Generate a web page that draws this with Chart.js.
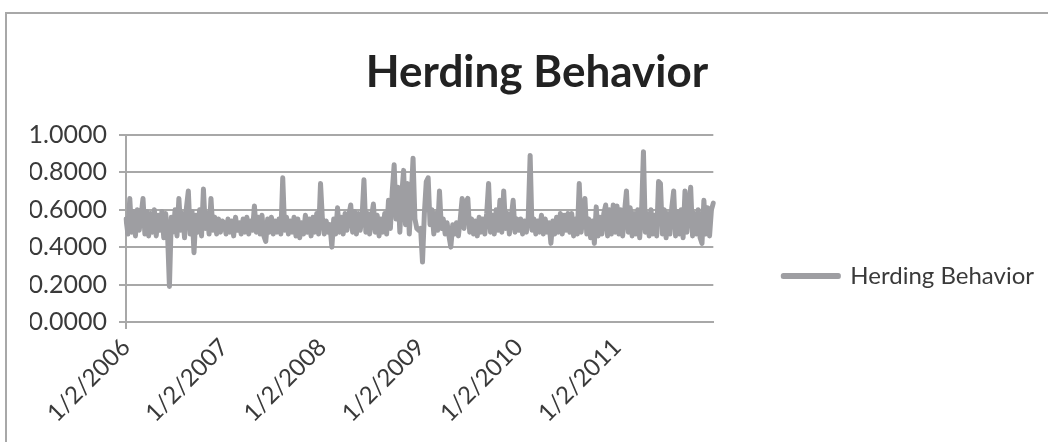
<!DOCTYPE html>
<html>
<head>
<meta charset="utf-8">
<script src="https://cdn.jsdelivr.net/npm/chart.js@4/dist/chart.umd.min.js"></script>
<style>
  html, body { margin: 0; padding: 0; background: #fff; overflow: hidden; }
  #wrap { position: relative; width: 1048px; height: 442px; }
  #frame { position: absolute; left: 5px; top: 12px; width: 1100px; height: 500px; border: 2px solid #a8a8a8; }
  #herdingChart { position: absolute; left: 0; top: 0; }
</style>
</head>
<body>
<div id="wrap">
  <div id="frame"></div>
  <canvas id="herdingChart" width="1048" height="442"></canvas>
</div>
<script>
// Weekly readings of the herding measure, one array per year (52 points each)
const years = [2006, 2007, 2008, 2009, 2010, 2011];

const herding2006 = [0.55, 0.47, 0.66, 0.48, 0.59, 0.46, 0.60, 0.49, 0.57, 0.66, 0.47, 0.59, 0.46,
  0.58, 0.48, 0.60, 0.46, 0.57, 0.49, 0.59, 0.45, 0.58, 0.47, 0.19, 0.56, 0.48, 0.60, 0.46, 0.66,
  0.49, 0.58, 0.45, 0.61, 0.70, 0.47, 0.59, 0.37, 0.57, 0.48, 0.60, 0.46, 0.71, 0.50, 0.58, 0.47,
  0.66, 0.49, 0.56, 0.47, 0.55, 0.48, 0.54];
const herding2007 = [0.53, 0.47, 0.55, 0.48, 0.54, 0.46, 0.56, 0.49, 0.53, 0.47, 0.55, 0.48, 0.56,
  0.47, 0.54, 0.49, 0.62, 0.48, 0.56, 0.47, 0.57, 0.46, 0.43, 0.55, 0.48, 0.56, 0.47, 0.54, 0.48,
  0.55, 0.47, 0.77, 0.49, 0.56, 0.47, 0.54, 0.48, 0.56, 0.46, 0.55, 0.45, 0.53, 0.47, 0.57, 0.48,
  0.55, 0.46, 0.56, 0.48, 0.58, 0.47, 0.74];
const herding2008 = [0.55, 0.47, 0.54, 0.48, 0.52, 0.40, 0.55, 0.47, 0.61, 0.48, 0.56, 0.47, 0.58,
  0.49, 0.57, 0.625, 0.48, 0.59, 0.47, 0.58, 0.49, 0.56, 0.76, 0.48, 0.58, 0.47, 0.56, 0.63, 0.48,
  0.57, 0.46, 0.55, 0.48, 0.58, 0.47, 0.65, 0.50, 0.70, 0.84, 0.55, 0.72, 0.48, 0.68, 0.81, 0.52,
  0.74, 0.47, 0.66, 0.875, 0.55, 0.50, 0.49];
const herding2009 = [0.50, 0.32, 0.58, 0.75, 0.77, 0.52, 0.60, 0.47, 0.58, 0.49, 0.70, 0.50, 0.55,
  0.47, 0.53, 0.46, 0.40, 0.52, 0.47, 0.53, 0.46, 0.55, 0.66, 0.50, 0.64, 0.66, 0.48, 0.55, 0.47,
  0.54, 0.46, 0.56, 0.48, 0.55, 0.47, 0.58, 0.74, 0.48, 0.57, 0.47, 0.60, 0.49, 0.65, 0.48, 0.70,
  0.50, 0.58, 0.47, 0.56, 0.65, 0.48, 0.55];
const herding2010 = [0.49, 0.55, 0.47, 0.54, 0.48, 0.56, 0.89, 0.49, 0.55, 0.47, 0.54, 0.48, 0.57,
  0.47, 0.55, 0.48, 0.53, 0.42, 0.54, 0.47, 0.56, 0.48, 0.58, 0.47, 0.57, 0.49, 0.58, 0.48, 0.58,
  0.46, 0.55, 0.47, 0.74, 0.48, 0.57, 0.66, 0.47, 0.55, 0.45, 0.54, 0.42, 0.615, 0.46, 0.56, 0.47,
  0.58, 0.625, 0.46, 0.60, 0.47, 0.625, 0.48];
const herding2011 = [0.62, 0.47, 0.60, 0.46, 0.59, 0.70, 0.48, 0.61, 0.46, 0.58, 0.47, 0.60, 0.45,
  0.59, 0.91, 0.48, 0.58, 0.46, 0.60, 0.47, 0.57, 0.46, 0.75, 0.74, 0.47, 0.60, 0.45, 0.58, 0.47,
  0.61, 0.70, 0.46, 0.59, 0.47, 0.60, 0.45, 0.70, 0.48, 0.61, 0.72, 0.46, 0.58, 0.47, 0.60, 0.45,
  0.42, 0.65, 0.47, 0.61, 0.46, 0.60, 0.635];

const yearlySeries = [herding2006, herding2007, herding2008, herding2009, herding2010, herding2011];
const yTicks = [0, 0.2, 0.4, 0.6, 0.8, 1.0];

// Build week dates (m/d/yyyy) and the flat value list
const dates = [];
const values = [];
const yearStarts = [];
yearlySeries.forEach((arr, k) => {
    yearStarts.push(dates.length);
    arr.forEach((v, w) => {
        const d = new Date(years[k], 0, 2 + 7 * w);
        dates.push((d.getMonth() + 1) + '/' + d.getDate() + '/' + d.getFullYear());
        values.push(v);
    });
});

const gray = '#a8a8a8';
const lineGray = '#9e9ea2';
const textColor = '#3a3a3a';
const baseFont = 'Lato, "Open Sans", sans-serif';

const ctx = document.getElementById('herdingChart').getContext('2d');
const herdingChart = new Chart(ctx, {
    type: 'line',
    data: {
        labels: dates,
        datasets: [{
            label: 'Herding Behavior',
            data: values,
            borderColor: lineGray,
            backgroundColor: lineGray,
            borderWidth: 5,
            pointRadius: 0,
            tension: 0,
            borderJoinStyle: 'round',
            borderCapStyle: 'round'
        }]
    },
    options: {
        responsive: false,
        animation: false,
        layout: { padding: { left: 30, right: 4, top: 0, bottom: 0 } },
        plugins: {
            title: {
                display: true,
                text: 'Herding Behavior',
                color: '#222',
                font: { family: baseFont, size: 44, weight: 'bold' },
                padding: { top: 46, bottom: 36 }
            },
            legend: {
                position: 'right',
                align: 'end',
                fullSize: false,
                maxWidth: 296,
                labels: {
                    boxWidth: 55,
                    boxHeight: 1,
                    padding: 34,
                    color: textColor,
                    font: { family: baseFont, size: 24 }
                }
            },
            tooltip: { enabled: false }
        },
        scales: {
            x: {
                type: 'category',
                grid: {
                    drawOnChartArea: false,
                    drawTicks: true,
                    tickLength: 7,
                    lineWidth: 2,
                    color: (c) => (yearStarts.includes(c.index) ? gray : 'rgba(0,0,0,0)')
                },
                border: { color: gray, width: 2 },
                ticks: {
                    autoSkip: false,
                    minRotation: 45,
                    maxRotation: 45,
                    padding: 4,
                    color: textColor,
                    font: { family: baseFont, size: 24 },
                    callback: (val, i) => (yearStarts.includes(i) ? '1/2/' + years[yearStarts.indexOf(i)] : null)
                },
                afterFit: (s) => { s.height = 120; }
            },
            y: {
                min: yTicks[0],
                max: yTicks[yTicks.length - 1],
                grid: { color: gray, lineWidth: 2, tickLength: 7 },
                border: { color: gray, width: 2 },
                ticks: {
                    stepSize: 0.2,
                    padding: 12,
                    color: textColor,
                    font: { family: baseFont, size: 25 },
                    callback: (v) => v.toFixed(4)
                },
                afterFit: (s) => { s.width = 96; }
            },
            // empty spacer between plot and legend
            gap: {
                position: 'right',
                display: true,
                grid: { display: false },
                border: { display: false },
                ticks: { display: false },
                afterFit: (s) => { s.width = 36; }
            }
        }
    }
});
</script>
</body>
</html>
